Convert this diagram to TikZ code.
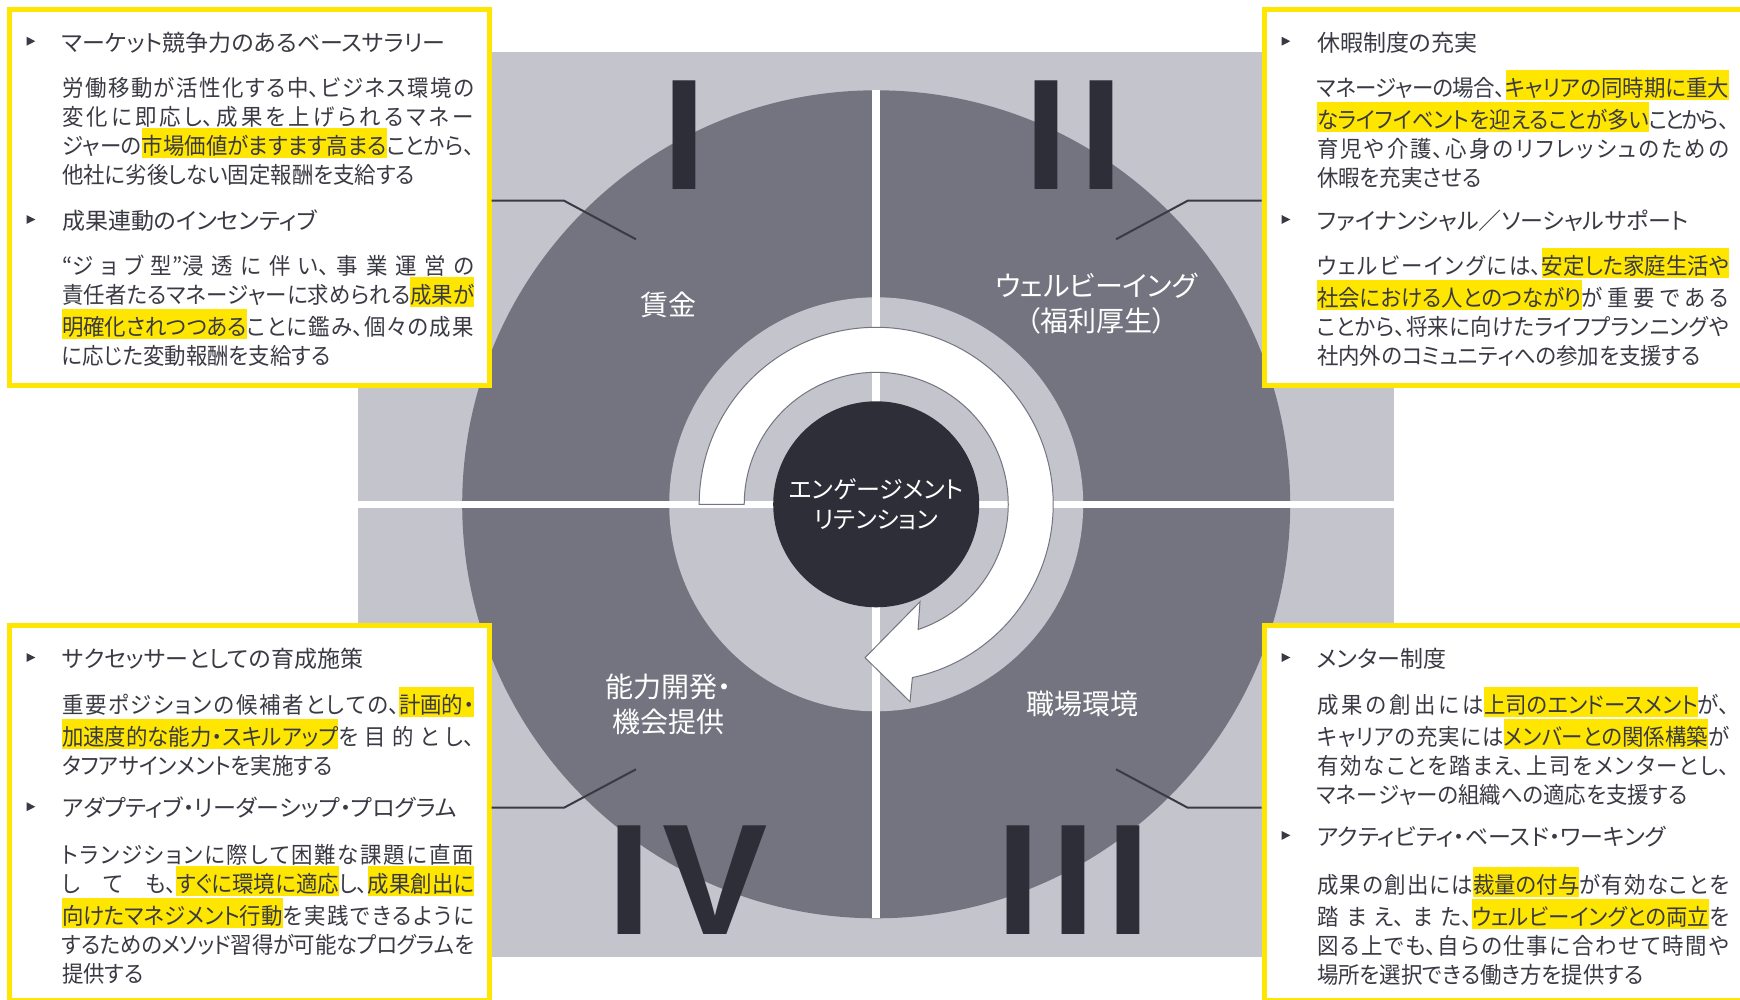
\documentclass[tikz,border=0pt]{standalone}
\usepackage{fontspec}
\setmainfont{Noto Sans CJK JP}[RawFeature=+palt]
\newfontfamily\bodyjp{Noto Sans CJK JP}[RawFeature=+palt, FakeStretch=0.94]
\newfontfamily\romanfont{Liberation Sans}
\usetikzlibrary{fit}
\XeTeXlinebreaklocale "ja"
\XeTeXlinebreakskip=0pt plus 8pt minus 1.2pt
\XeTeXlinebreakpenalty=10000
\tolerance=10000
\lineskiplimit=-50pt
\definecolor{eyyellow}{HTML}{FFE600}
\definecolor{eydark}{HTML}{2E2E38}
\definecolor{eymid}{HTML}{747480}
\definecolor{eylight}{HTML}{C4C4CD}
\definecolor{txt}{HTML}{3A3A44}
\newcommand\hlt[1]{{\setlength{\fboxsep}{0pt}\colorbox{eyyellow}{\rule[-1.5pt]{0pt}{15pt}#1}}}
\newcommand\bodyfont{\bodyjp\fontsize{11.4pt}{14.5pt}\selectfont}
\tikzset{
  ybox/.style={draw=eyyellow, line width=2.5pt, fill=white, inner sep=0pt},
  headtext/.style={anchor=base west, inner sep=0pt, text=txt, font=\fontsize{11.5pt}{14.5pt}\selectfont},
  bodytext/.style={anchor=base west, inner sep=0pt, text=txt, text width=206pt, align=justify, font=\bodyfont},
  qlabel/.style={text=white, align=center, inner sep=0pt, font=\fontsize{14pt}{17.5pt}\selectfont},
  roman/.style={inner sep=0pt, text=eydark, font=\romanfont\bfseries\fontsize{79pt}{79pt}\selectfont},
  conn/.style={draw=txt, line width=1pt},
  wline/.style={draw=white, line width=3.8pt},
  arrowst/.style={fill=white, draw=eymid, line width=0.5pt, line join=miter},
  bullet/.style={fill=txt}
}
\begin{document}
\begin{tikzpicture}[x=0.5pt, y=-0.5pt]
\path[use as bounding box] (0,0) rectangle (1740,1000);
\clip (0,0) rectangle (1740,1000);
\fill[white] (0,0) rectangle (1740,1000);
% background
\fill[eylight] (358,51.7) rectangle (1394,956.7);
\coordinate (C) at (876.2,504.3);
\fill[eymid] (C) circle[radius=414];
\fill[eylight] (C) circle[radius=207];
\draw[wline] (358,504.3) -- (1394,504.3);
\draw[wline] (876.2,90.3) -- (876.2,918.3);
% circular arrow
\draw[arrowst] (699.2,504.3) arc[start angle=180, end angle=438.2, radius=177]
  -- (910,701.7) -- (865,657.7) -- (920,601.7) -- (918.1,629.5)
  arc[start angle=431.5, end angle=180, radius=132] -- cycle;
% centre
\node[circle, fill=eydark, minimum size=103pt, inner sep=0pt, text=white, align=center,
  font=\fontsize{12pt}{15pt}\selectfont] (core) at (C) {エンゲージメント\\リテンション};
% roman numerals
\node[roman, anchor=base] (r1) at (684.35,190) {I};
\node[roman, anchor=base] (r2) at (1073.85,190) {I\kern5.5pt I};
\node[roman, anchor=base] (r3) at (1073.7,934) {I\kern5.5pt I\kern5.5pt I};
\node[roman, anchor=base west] (r4) at (607,934) {I\kern5.6pt V};
% quadrant labels
\node[qlabel] (q1) at (668.8,305) {賃金};
\node[qlabel] (q2) at (1096.5,304) {ウェルビーイング\\（福利厚生）};
\node[qlabel] (q3) at (1082.8,704) {職場環境};
\node[qlabel] (q4) at (668,704.6) {能力開発・\\機会提供};
% boxes
\node[ybox, fit={(9.2,9.5) (489.2,385.8)}] (boxTL) {};
\node[ybox, fit={(1264.2,9.5) (1760,385.8)}] (boxTR) {};
\node[ybox, fit={(9.2,625.8) (489.2,1000.5)}] (boxBL) {};
\node[ybox, fit={(1264.2,625.8) (1760,1000.5)}] (boxBR) {};
% connectors
\coordinate (tlA) at (636,239.3); \coordinate (tlB) at (564,200.7);
\coordinate (trA) at (1116,239.3); \coordinate (trB) at (1187.7,200.7);
\coordinate (blA) at (636,769.3); \coordinate (blB) at (564,807.7);
\coordinate (brA) at (1116,769.3); \coordinate (brB) at (1187.7,807.7);
\draw[conn] (tlA) -- (tlB) -- (tlB -| boxTL.east);
\draw[conn] (trA) -- (trB) -- (trB -| boxTR.west);
\draw[conn] (blA) -- (blB) -- (blB -| boxBL.east);
\draw[conn] (brA) -- (brB) -- (brB -| boxBR.west);
% bullets
\foreach \bx/\by in {26.7/41.2, 26.7/219.5, 1281.7/41.2, 1281.7/219.5, 26.7/657.5, 26.7/806.7, 1281.7/657.5, 1281.7/835.4}
  \fill[bullet] (\bx,\by-4.4) -- (\bx+8.6,\by) -- (\bx,\by+4.4) -- cycle;
% top-left text
\node[headtext] (tlh1) at (61.7,51.2) {マーケット競争力のあるベースサラリー};
\node[bodytext] (tlb1) at (61.7,97) {労働移動が活性化する中、ビジネス環境の\linebreak 変化に即応し、成果を上げられるマネー\linebreak ジャーの\hlt{市場価値がますます高まる}ことから、\linebreak 他社に劣後しない固定報酬を支給する};
\node[headtext] (tlh2) at (61.7,229.5) {成果連動のインセンティブ};
\node[bodytext] (tlb2) at (61.7,274.7) {“ジョブ型”浸透に伴い、事業運営の\linebreak 責任者たるマネージャーに求められる\hlt{成果が}\linebreak \hlt{明確化されつつある}ことに鑑み、個々の成果\linebreak に応じた変動報酬を支給する};
% top-right text
\node[headtext] (trh1) at (1316.7,51.2) {休暇制度の充実};
\node[bodytext] (trb1) at (1316.7,97) {マネージャーの場合、\hlt{キャリアの同時期に重大}\linebreak \hlt{なライフイベントを迎えることが多い}ことから、\linebreak 育児や介護、心身のリフレッシュのための\linebreak 休暇を充実させる};
\node[headtext] (trh2) at (1316.7,229.5) {ファイナンシャル／ソーシャルサポート};
\node[bodytext] (trb2) at (1316.7,274.7) {ウェルビーイングには、\hlt{安定した家庭生活や}\linebreak \hlt{社会における人とのつながり}が重要である\linebreak ことから、将来に向けたライフプランニングや\linebreak 社内外のコミュニティへの参加を支援する};
% bottom-left text
\node[headtext] (blh1) at (61.7,667.5) {サクセッサーとしての育成施策};
\node[bodytext] (blb1) at (61.7,713.5) {重要ポジションの候補者としての、\hlt{計画的・}\linebreak \hlt{加速度的な能力・スキルアップ}を目的とし、\linebreak タフアサインメントを実施する};
\node[headtext] (blh2) at (61.7,816.7) {アダプティブ・リーダーシップ・プログラム};
\node[bodytext] (blb2) at (61.7,863.7) {トランジションに際して困難な課題に直面\linebreak しても、\hlt{すぐに環境に適応}し、\hlt{成果創出に}\linebreak \hlt{向けたマネジメント行動}を実践できるように\linebreak するためのメソッド習得が可能なプログラムを\linebreak 提供する};
% bottom-right text
\node[headtext] (brh1) at (1316.7,667.5) {メンター制度};
\node[bodytext] (brb1) at (1316.7,713.5) {成果の創出には\hlt{上司のエンドースメント}が、\linebreak キャリアの充実には\hlt{メンバーとの関係構築}が\linebreak 有効なことを踏まえ、上司をメンターとし、\linebreak マネージャーの組織への適応を支援する};
\node[headtext] (brh2) at (1316.7,845.4) {アクティビティ・ベースド・ワーキング};
\node[bodytext] (brb2) at (1316.7,893.7) {成果の創出には\hlt{裁量の付与}が有効なことを\linebreak 踏まえ、また、\hlt{ウェルビーイングとの両立}を\linebreak 図る上でも、自らの仕事に合わせて時間や\linebreak 場所を選択できる働き方を提供する};
\end{tikzpicture}
\end{document}
